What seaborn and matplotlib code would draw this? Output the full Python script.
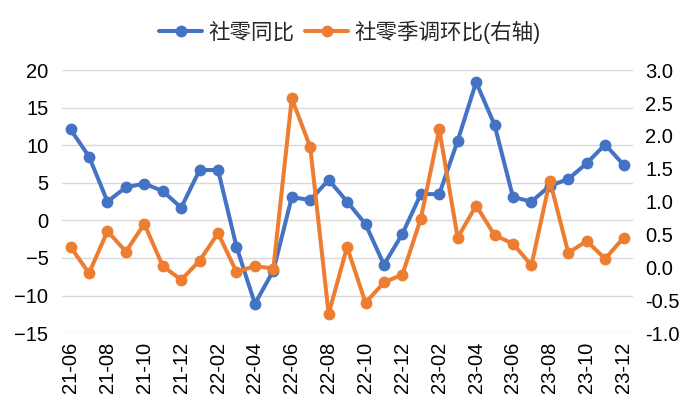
import pandas as pd
import seaborn as sns
import matplotlib
matplotlib.use("Agg")
import matplotlib.pyplot as plt

# --- dados ---
months = ["21-06", "21-07", "21-08", "21-09", "21-10", "21-11", "21-12",
          "22-01", "22-02", "22-03", "22-04", "22-05", "22-06", "22-07", "22-08",
          "22-09", "22-10", "22-11", "22-12", "23-01", "23-02", "23-03", "23-04",
          "23-05", "23-06", "23-07", "23-08", "23-09", "23-10", "23-11", "23-12"]
yoy = [12.1, 8.5, 2.5, 4.4, 4.9, 3.9, 1.7, 6.7, 6.7, -3.5, -11.1, -6.7, 3.1, 2.7, 5.4,
       2.5, -0.5, -5.9, -1.8, 3.5, 3.5, 10.6, 18.4, 12.7, 3.1, 2.5, 4.6, 5.5, 7.6, 10.1, 7.4]
mom = [0.31, -0.09, 0.55, 0.24, 0.66, 0.02, -0.19, 0.10, 0.52, -0.07, 0.02, -0.02, 2.57, 1.83, -0.71,
       0.31, -0.54, -0.23, -0.11, 0.74, 2.10, 0.45, 0.94, 0.49, 0.36, 0.03, 1.32, 0.22, 0.40, 0.13, 0.45]
label_yoy = "社零同比"
label_mom = "社零季调环比(右轴)"

BLUE = "#4472C4"
ORANGE = "#ED7D31"

df = pd.DataFrame({"idx": range(len(months)), "month": months, "yoy": yoy, "mom": mom})

sns.set_theme(style="white")
plt.rcParams["font.family"] = ["Liberation Sans", "Noto Sans CJK SC", "DejaVu Sans"]

fig = plt.figure(figsize=(7, 4.2), dpi=100)
ax = fig.add_axes([0.089, 0.207, 0.815, 0.626])
ax2 = ax.twinx()

sns.lineplot(data=df, x="idx", y="yoy", ax=ax, color=BLUE, marker="o", markersize=8.5,
             markeredgewidth=0, linewidth=2.9, label=label_yoy, legend=False)
sns.lineplot(data=df, x="idx", y="mom", ax=ax2, color=ORANGE, marker="o", markersize=8.5,
             markeredgewidth=0, linewidth=2.9, label=label_mom, legend=False)

ax.set_ylim(-15, 20)
ax.set_yticks(range(-15, 21, 5))
ax2.set_ylim(-1.0, 3.0)
ax2.set_yticks([-1.0, -0.5, 0.0, 0.5, 1.0, 1.5, 2.0, 2.5, 3.0])
ax2.set_yticklabels([f"{v:.1f}" for v in ax2.get_yticks()])
ax.set_xlim(-0.45, len(months) - 0.5)

ticks = list(range(0, len(months), 2))
ax.set_xticks(ticks)
ax.set_xticklabels([months[i] for i in ticks], rotation=90)

ax.grid(axis="y", color="#d9d9d9", linewidth=1)
ax.grid(axis="x", visible=False)
ax2.grid(False)
for a in (ax, ax2):
    for s in a.spines.values():
        s.set_visible(False)
    a.tick_params(length=0, labelsize=14.5, colors="black")
    a.set_xlabel("")
    a.set_ylabel("")
ax.tick_params(axis="y", pad=10)
ax.tick_params(axis="x", pad=6)
ax2.tick_params(axis="y", pad=9)

h1, l1 = ax.get_legend_handles_labels()
h2, l2 = ax2.get_legend_handles_labels()
fig.legend(h1 + h2, l1 + l2, loc="center", bbox_to_anchor=(0.5, 0.923), ncol=2,
           frameon=False, fontsize=15.5, handlelength=2.0, handletextpad=0.3,
           columnspacing=0.5, numpoints=1)

fig.savefig("out.png", dpi=100)
